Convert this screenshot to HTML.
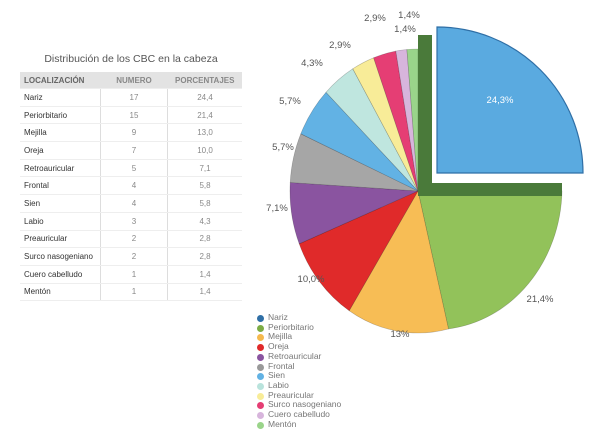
<!DOCTYPE html>
<html><head><meta charset="utf-8"><style>
body{margin:0;width:600px;height:434px;background:#fff;font-family:"Liberation Sans",sans-serif;overflow:hidden;position:relative}
.title{position:absolute;left:20px;top:53px;width:222px;text-align:center;font-size:10.5px;color:#555}
table{position:absolute;left:20px;top:72px;border-collapse:collapse;font-size:8px;color:#333}
td,th{height:16.7px;padding:0 4px;border-bottom:1px solid #eee}
th{background:#e3e3e3;color:#666;font-weight:bold;height:16px}
td:nth-child(2),td:nth-child(3),th:nth-child(2),th:nth-child(3){text-align:center;color:#888}
td:nth-child(1){width:72px}td:nth-child(2){width:58px;border-left:1px solid #ddd}td:nth-child(3){width:66px;border-left:1px solid #ddd}
.leg{position:absolute;left:256px;top:313px;font-size:8.5px;color:#777;line-height:9.7px}
.leg div{position:relative;padding-left:12px}
.leg span{position:absolute;left:1px;top:2px;width:7px;height:7px;border-radius:50%}
</style></head><body>
<div class="title">Distribución de los CBC en la cabeza</div>
<table>
<tr><th style="text-align:left">LOCALIZACIÓN</th><th>NUMERO</th><th>PORCENTAJES</th></tr>
<tr><td>Nariz</td><td>17</td><td>24,4</td></tr>
<tr><td>Periorbitario</td><td>15</td><td>21,4</td></tr>
<tr><td>Mejilla</td><td>9</td><td>13,0</td></tr>
<tr><td>Oreja</td><td>7</td><td>10,0</td></tr>
<tr><td>Retroauricular</td><td>5</td><td>7,1</td></tr>
<tr><td>Frontal</td><td>4</td><td>5,8</td></tr>
<tr><td>Sien</td><td>4</td><td>5,8</td></tr>
<tr><td>Labio</td><td>3</td><td>4,3</td></tr>
<tr><td>Preauricular</td><td>2</td><td>2,8</td></tr>
<tr><td>Surco nasogeniano</td><td>2</td><td>2,8</td></tr>
<tr><td>Cuero cabelludo</td><td>1</td><td>1,4</td></tr>
<tr><td>Mentón</td><td>1</td><td>1,4</td></tr>
</table>
<svg id="s" width="600" height="434" style="position:absolute;left:0;top:0"></svg>
<div class="leg">
<div><span style="background:#2f6fa6"></span>Nariz</div>
<div><span style="background:#7cac45"></span>Periorbitario</div>
<div><span style="background:#f5b94d"></span>Mejilla</div>
<div><span style="background:#e02a2a"></span>Oreja</div>
<div><span style="background:#8a54a0"></span>Retroauricular</div>
<div><span style="background:#999"></span>Frontal</div>
<div><span style="background:#62b2e4"></span>Sien</div>
<div><span style="background:#b9e3dc"></span>Labio</div>
<div><span style="background:#f8ec98"></span>Preauricular</div>
<div><span style="background:#e53e74"></span>Surco nasogeniano</div>
<div><span style="background:#d7b5dc"></span>Cuero cabelludo</div>
<div><span style="background:#9ad48a"></span>Mentón</div>
</div>
<script>
var s=document.getElementById('s'),h='';
var cx=418,cy=191,rx=128,ry=142;
var d=[[21.4,'#92c25a'],[13,'#f7bd55'],[10,'#e02a2a'],[7.1,'#8a54a0'],[5.7,'#a6a6a6'],[5.7,'#62b2e4'],[4.3,'#bfe6df'],[2.9,'#f8ec98'],[2.9,'#e53e74'],[1.4,'#d7b5dc'],[1.4,'#9ad48a']];
var tot=0;d.forEach(function(e){tot+=e[0]});
var a=90;
function pt(x,y,r1,r2,ang){var t=(ang-90)*Math.PI/180;return (x+r1*Math.cos(t)).toFixed(1)+','+(y+r2*Math.sin(t)).toFixed(1)}
d.forEach(function(e,i){var b=a+e[0]/tot*270;var rrx=i==0?144:rx;
h+='<path d="M'+cx+','+cy+' L'+pt(cx,cy,rrx,ry,a)+' A'+rx+','+ry+' 0 '+(b-a>180?1:0)+' 1 '+pt(cx,cy,rx,ry,b)+' Z" fill="'+e[1]+'" stroke="rgba(0,0,0,0.25)" stroke-width="0.6"/>';a=b;});
h+='<polygon points="'+cx+','+(cy-156)+' '+(cx+14)+','+(cy-156)+' '+(cx+14)+','+(cy-8)+' '+(cx+144)+','+(cy-8)+' '+(cx+144)+','+(cy+5)+' '+cx+','+(cy+5)+'" fill="#4a7a3a"/>';
var ex=437,ey=173,r=146;
h+='<path d="M'+ex+','+ey+' L'+ex+','+(ey-r)+' A'+r+','+r+' 0 0 1 '+(ex+r)+','+ey+' Z" fill="#5aaae0" stroke="#2f6fa6" stroke-width="1.2"/>';
var L=[['24,3%',500,103,'#fff'],['21,4%',540,302],['13%',400,337],['10,0%',311,282],['7,1%',277,211],['5,7%',283,150],['5,7%',290,104],['4,3%',312,66],['2,9%',340,48],['2,9%',375,21],['1,4%',405,32],['1,4%',409,18]];
L.forEach(function(l){h+='<text x="'+l[1]+'" y="'+l[2]+'" font-size="9.5" text-anchor="middle" fill="'+(l[3]||'#555')+'" font-family="Liberation Sans">'+l[0]+'</text>'});
s.innerHTML=h;
</script>
</body></html>
